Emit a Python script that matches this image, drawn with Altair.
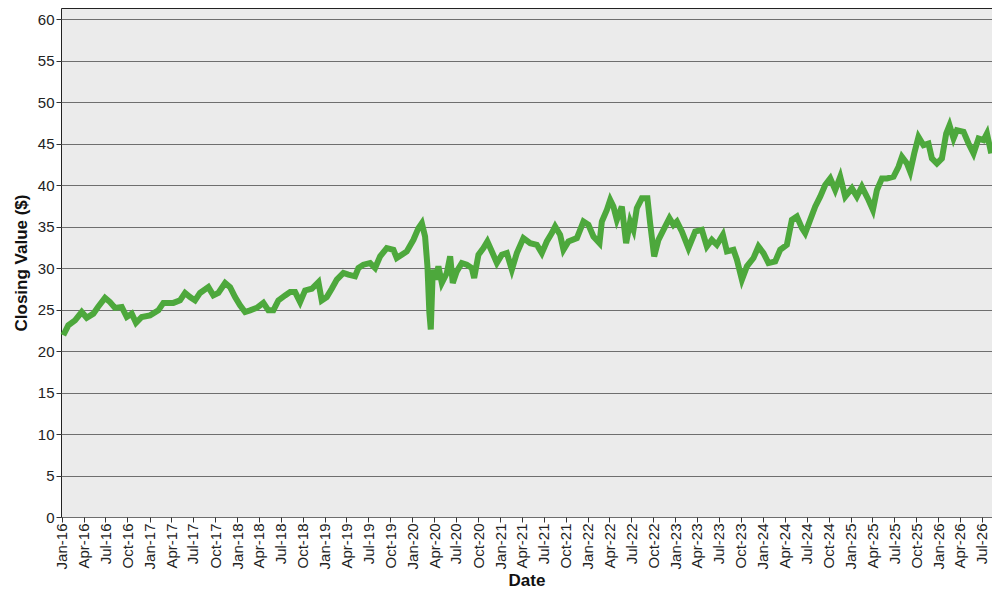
import altair as alt
import pandas as pd

# Decimal-year offsets (years after 1 Jan 2016) and closing values
year_offsets = [
    0.018, 0.075, 0.152, 0.228, 0.285, 0.361, 0.414, 0.494, 0.551, 0.608,
    0.685, 0.742, 0.799, 0.848, 0.913, 1.008, 1.102, 1.160, 1.274, 1.350,
    1.407, 1.464, 1.521, 1.578, 1.673, 1.730, 1.787, 1.864, 1.921, 1.978,
    2.035, 2.092, 2.149, 2.226, 2.301, 2.358, 2.415, 2.472, 2.549, 2.606,
    2.663, 2.720, 2.777, 2.853, 2.929, 2.967, 3.024, 3.081, 3.139, 3.214,
    3.271, 3.347, 3.385, 3.442, 3.519, 3.576, 3.633, 3.709, 3.785, 3.823,
    3.880, 3.937, 4.013, 4.070, 4.109, 4.146, 4.173, 4.195, 4.211, 4.234,
    4.260, 4.298, 4.337, 4.394, 4.432, 4.462, 4.508, 4.565, 4.622, 4.679,
    4.706, 4.755, 4.812, 4.857, 4.908, 4.965, 5.022, 5.079, 5.136, 5.193,
    5.268, 5.345, 5.421, 5.478, 5.535, 5.592, 5.630, 5.687, 5.725, 5.782,
    5.878, 5.953, 6.010, 6.067, 6.136, 6.163, 6.220, 6.258, 6.295, 6.334,
    6.391, 6.440, 6.486, 6.524, 6.562, 6.619, 6.683, 6.714, 6.760, 6.809,
    6.866, 6.934, 6.980, 7.019, 7.076, 7.151, 7.228, 7.304, 7.361, 7.418,
    7.475, 7.544, 7.590, 7.665, 7.704, 7.761, 7.818, 7.893, 7.950, 8.007,
    8.064, 8.141, 8.198, 8.274, 8.331, 8.388, 8.446, 8.483, 8.540, 8.597,
    8.654, 8.711, 8.769, 8.826, 8.883, 8.940, 9.016, 9.073, 9.130, 9.168,
    9.206, 9.256, 9.302, 9.359, 9.416, 9.491, 9.548, 9.587, 9.644, 9.681,
    9.727, 9.776, 9.833, 9.890, 9.929, 9.986, 10.043, 10.092, 10.130, 10.176,
    10.214, 10.290, 10.347, 10.404, 10.461, 10.518, 10.557, 10.606,
]
closing = [
    21.9, 23.1, 23.7, 24.7, 24.0, 24.5, 25.3, 26.4, 25.9, 25.2,
    25.3, 24.1, 24.5, 23.4, 24.1, 24.3, 24.9, 25.8, 25.8, 26.1,
    27.0, 26.5, 26.1, 27.0, 27.7, 26.7, 27.0, 28.2, 27.7, 26.5,
    25.5, 24.7, 24.9, 25.2, 25.8, 24.9, 24.9, 26.1, 26.7, 27.1,
    27.1, 25.9, 27.3, 27.5, 28.3, 26.1, 26.5, 27.5, 28.6, 29.4,
    29.2, 29.0, 30.0, 30.4, 30.6, 30.0, 31.4, 32.4, 32.2, 31.2,
    31.6, 32.0, 33.4, 34.8, 35.4, 33.8, 30.2, 24.6, 22.6, 29.8,
    28.6, 30.2, 28.2, 29.4, 31.4, 28.2, 29.6, 30.6, 30.4, 30.0,
    28.8, 31.6, 32.4, 33.2, 32.0, 30.6, 31.6, 31.8, 29.8, 31.8,
    33.6, 33.0, 32.8, 31.8, 33.2, 34.2, 35.0, 34.0, 32.2, 33.2,
    33.6, 35.6, 35.2, 33.8, 33.0, 35.6, 37.0, 38.2, 37.4, 35.8,
    37.4, 33.0, 35.6, 34.6, 37.2, 38.4, 38.4, 35.4, 31.4, 33.4,
    34.6, 36.0, 35.2, 35.6, 34.4, 32.4, 34.4, 34.6, 32.6, 33.4,
    32.8, 34.0, 32.0, 32.2, 31.0, 28.6, 30.2, 31.2, 32.6, 31.8,
    30.6, 30.8, 32.2, 32.8, 35.8, 36.2, 34.8, 34.2, 35.8, 37.4,
    38.6, 40.0, 40.8, 39.4, 41.0, 38.6, 39.6, 38.6, 39.8, 39.0,
    38.2, 37.0, 39.4, 40.8, 40.8, 41.0, 42.2, 43.4, 42.6, 41.6,
    43.8, 45.8, 44.8, 45.0, 43.2, 42.6, 43.2, 46.2, 47.2, 45.6,
    46.6, 46.4, 45.0, 43.8, 45.6, 45.4, 46.2, 43.8,
]

y_ticks = list(range(0, 65, 5))
x_tick_dates = pd.date_range("2016-01-01", "2026-07-01", freq="QS")

start = pd.Timestamp("2016-01-01")
df = pd.DataFrame({
    "Date": [start + pd.to_timedelta(o * 365.25, unit="D") for o in year_offsets],
    "Close": closing,
})

x_ticks = [alt.DateTime(year=d.year, month=d.month, date=1) for d in x_tick_dates]

chart = (
    alt.Chart(df)
    .mark_line(color="#4DA83C", strokeWidth=6)
    .encode(
        x=alt.X(
            "Date:T",
            title="Date",
            scale=alt.Scale(domain=[alt.DateTime(year=2015, month=12, date=29),
                                    alt.DateTime(year=2026, month=8, date=13)]),
            axis=alt.Axis(values=x_ticks, format="%b-%y", labelAngle=-90,
                          grid=False, tickSize=5, labelPadding=1, titlePadding=4),
        ),
        y=alt.Y(
            "Close:Q",
            title="Closing Value ($)",
            scale=alt.Scale(domain=[0, 61.33], nice=False, zero=True),
            axis=alt.Axis(values=y_ticks, grid=True, gridColor="#6e6e6e",
                          gridOpacity=1, tickSize=5, labelPadding=2, titlePadding=7),
        ),
    )
    .properties(
        width=931,
        height=509,
        autosize=alt.AutoSizeParams(type="none"),
        padding={"left": 53, "top": 0, "right": 0, "bottom": 75},
    )
    .configure_view(fill="#EBEBEB", stroke="#222222", strokeWidth=1)
    .configure_axis(
        labelFont="Liberation Sans", titleFont="Liberation Sans",
        labelFontSize=15, titleFontSize=17, titleFontWeight="bold",
        labelColor="#222222", titleColor="#111111",
        tickColor="#333333", domain=False,
    )
)

chart.save("out.html", embed_options={"renderer": "svg", "actions": False})
